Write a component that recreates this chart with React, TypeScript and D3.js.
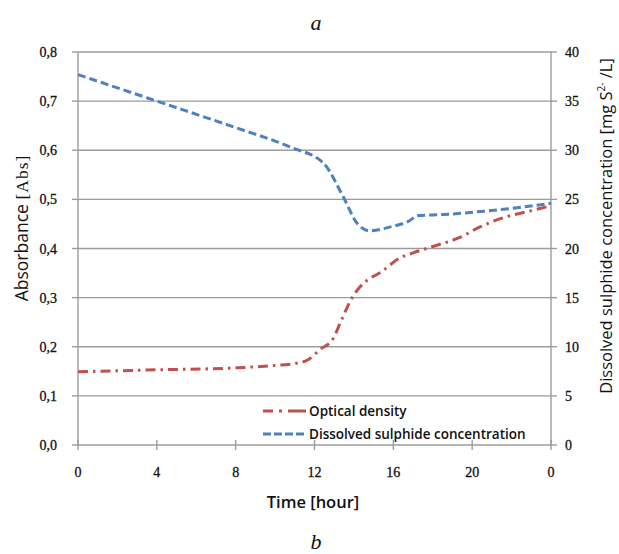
import React from "react";
import * as d3 from "d3";

// Time axis ticks (hours) and their printed labels
const timeTicks = [0, 4, 8, 12, 16, 20, 24];
const timeTickLabels = ["0", "4", "8", "12", "16", "20", "0"];

// Left axis: absorbance
const absTicks = [0, 0.1, 0.2, 0.3, 0.4, 0.5, 0.6, 0.7, 0.8];
const absTickLabels = ["0,0", "0,1", "0,2", "0,3", "0,4", "0,5", "0,6", "0,7", "0,8"];

// Right axis: dissolved sulphide (mg/L)
const sulphideTicks = [0, 5, 10, 15, 20, 25, 30, 35, 40];

// Optical density series
const odTime = [0, 4, 8, 10, 11, 11.6, 12.3, 12.95, 13.3, 13.9, 14.25, 14.8, 15.3, 16.3, 17.0, 18.0, 19.4, 20.4, 21.6, 22.8, 24];
const odValue = [0.149, 0.153, 0.157, 0.162, 0.166, 0.172, 0.195, 0.217, 0.248, 0.299, 0.319, 0.339, 0.35, 0.38, 0.391, 0.404, 0.423, 0.444, 0.463, 0.475, 0.487];

// Dissolved sulphide concentration series
const sulTime = [0, 4, 8, 10.8, 12.45, 13.45, 14.15, 14.8, 15.85, 16.7, 17.3, 18.5, 20.6, 22.5, 24];
const sulValue = [37.7, 35.0, 32.3, 30.3, 28.7, 25.3, 22.6, 21.8, 22.2, 22.7, 23.35, 23.45, 23.8, 24.2, 24.6];

const RED = "#c0504d";
const BLUE = "#4f81bd";
const GRID = "#9c9c9c";
const INK = "#111";
const SERIF = "'Liberation Serif', 'DejaVu Serif', serif";
const SANS = "'Open Sans', 'Noto Sans', sans-serif";

export default function App() {
  const width = 619;
  const height = 554;
  const left = 78;
  const right = 551;
  const top = 52;
  const bottom = 445;

  const x = d3.scaleLinear().domain([0, 24]).range([left, right]);
  const yAbs = d3.scaleLinear().domain([0, 0.8]).range([bottom, top]);
  const ySul = d3.scaleLinear().domain([0, 40]).range([bottom, top]);

  const odLine = d3
    .line<number>()
    .x((_, i) => x(odTime[i]))
    .y((v) => yAbs(v))
    .curve(d3.curveMonotoneX)(odValue) as string;

  const sulLine = d3
    .line<number>()
    .x((_, i) => x(sulTime[i]))
    .y((v) => ySul(v))
    .curve(d3.curveMonotoneX)(sulValue) as string;

  const tickText = { fontFamily: SERIF, fontSize: 14, fill: INK, stroke: INK, strokeWidth: 0.3 };

  return (
    <svg
      width={width}
      height={height}
      style={{ position: "absolute", left: 0, top: 0, background: "#fff" }}
    >
      {/* panel letter */}
      <text x={316} y={30} textAnchor="middle" fontFamily={SERIF} fontStyle="italic" fontSize={22} fill={INK}>
        a
      </text>

      {/* horizontal gridlines */}
      {absTicks.map((t) => (
        <line key={"g" + t} x1={left} x2={right} y1={yAbs(t)} y2={yAbs(t)} stroke={GRID} strokeWidth={1.4} />
      ))}

      {/* axis lines */}
      <line x1={left} x2={left} y1={top} y2={bottom} stroke={GRID} strokeWidth={1.4} />
      <line x1={right} x2={right} y1={top} y2={bottom} stroke={GRID} strokeWidth={1.4} />

      {/* left ticks and labels */}
      {absTicks.map((t, i) => (
        <g key={"la" + t}>
          <line x1={left - 6} x2={left} y1={yAbs(t)} y2={yAbs(t)} stroke={GRID} strokeWidth={1.4} />
          <text x={57} y={yAbs(t) + 5} textAnchor="end" {...tickText}>
            {absTickLabels[i]}
          </text>
        </g>
      ))}

      {/* right ticks and labels */}
      {sulphideTicks.map((t) => (
        <g key={"ra" + t}>
          <line x1={right} x2={right + 6} y1={ySul(t)} y2={ySul(t)} stroke={GRID} strokeWidth={1.4} />
          <text x={565} y={ySul(t) + 5} textAnchor="start" {...tickText}>
            {t}
          </text>
        </g>
      ))}

      {/* bottom ticks and labels */}
      {timeTicks.map((t, i) => (
        <g key={"b" + t}>
          <line x1={x(t)} x2={x(t)} y1={bottom - 5} y2={bottom + 5} stroke={GRID} strokeWidth={1.4} />
          <text x={x(t)} y={477} textAnchor="middle" {...tickText}>
            {timeTickLabels[i]}
          </text>
        </g>
      ))}

      {/* series */}
      <path d={odLine} fill="none" stroke={RED} strokeWidth={3} strokeDasharray="10 5 2.5 5" />
      <path d={sulLine} fill="none" stroke={BLUE} strokeWidth={3} strokeDasharray="8 4" />

      {/* legend */}
      <g fontFamily={SANS} fontSize={13.5} fontWeight={600} fill={INK}>
        <line x1={263} x2={306} y1={411} y2={411} stroke={RED} strokeWidth={3} strokeDasharray="10 6 3 6 18" />
        <text x={309} y={416}>Optical density</text>
        <line x1={263} x2={306} y1={434} y2={434} stroke={BLUE} strokeWidth={3} strokeDasharray="8 3" />
        <text x={309} y={439}>Dissolved sulphide concentration</text>
      </g>

      {/* axis titles */}
      <text
        transform={`translate(28, 228) rotate(-90)`}
        textAnchor="middle"
        fontFamily={SANS}
        fontSize={17.5}
        fontWeight={500}
        fill={INK}
      >
        Absorbance <tspan fontFamily={SERIF} letterSpacing={1}>[Abs]</tspan>
      </text>
      <text
        transform={`translate(612, 226) rotate(-90)`}
        textAnchor="middle"
        fontFamily={SANS}
        fontSize={16.5}
        fill={INK}
      >
        Dissolved sulphide concentration{"  "}[mg S
        <tspan fontSize={10} dy={-7}>2-</tspan>
        <tspan dy={7}> /L]</tspan>
      </text>
      <text x={313} y={508} textAnchor="middle" fontFamily={SANS} fontSize={16.5} fontWeight={600} fill={INK}>
        Time [hour]
      </text>

      {/* panel letter */}
      <text x={316} y={549} textAnchor="middle" fontFamily={SERIF} fontStyle="italic" fontSize={22} fill={INK}>
        b
      </text>
    </svg>
  );
}
